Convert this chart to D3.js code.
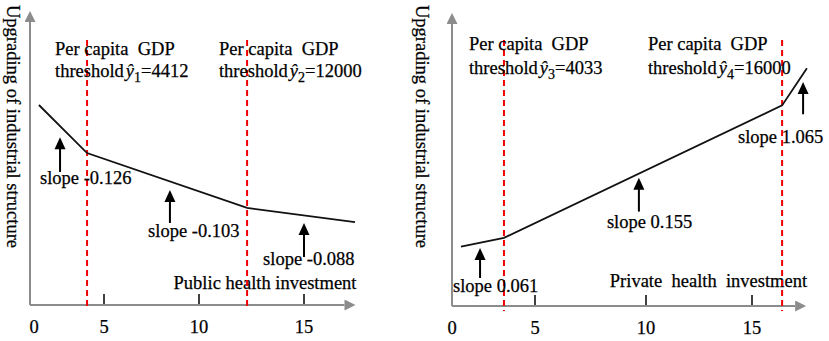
<!DOCTYPE html>
<html><head><meta charset="utf-8">
<script src="https://cdn.jsdelivr.net/npm/d3@7"></script>
<style>
body{margin:0;background:#fff}
svg{display:block}
text{font-family:"Liberation Serif","Times New Roman",serif;font-size:18.5px;fill:#000;white-space:pre;stroke:#000;stroke-width:0.25px}
</style></head><body>
<svg id="c" width="829" height="341"></svg>
<script>
// ---- data ----
const xTicks = [0, 5, 10, 15];
const yAxisTitle = "Upgrading of industrial structure";

const publicX = [0.35, 3.79, 12.29, 17.43];
const publicY = [6.78, 5.15, 3.29, 2.81];
const publicThresholds = [3.79, 12.29];
const publicThresholdSub = ["1", "2"];
const publicThresholdVal = ["4412", "12000"];
const publicSlopes = ["slope -0.126", "slope -0.103", "slope -0.088"];

const privateX = [0.54, 3.13, 16.42, 17.59];
const privateY = [2.01, 2.31, 6.80, 8.06];
const privateThresholds = [3.13, 16.42];
const privateThresholdSub = ["3", "4"];
const privateThresholdVal = ["4033", "16000"];
const privateSlopes = ["slope 0.061", "slope 0.155", "slope 1.065"];

// annotation anchors (data units)
const publicArrowX = [1.86, 8.47, 15.0], publicArrowTip = [5.69, 3.90, 2.78], publicArrowBase = [4.51, 2.78, 1.63];
const publicLabelX = [0.43, 7.32, 13.05], publicLabelY = [4.10, 2.31, 1.36];
const publicGdpX = [1.5, 10.95];
const privateArrowX = [1.69, 9.68, 17.41], privateArrowTip = [1.97, 4.35, 7.59], privateArrowBase = [0.95, 3.20, 6.50];
const privateLabelX = [0.06, 8.24, 14.34], privateLabelY = [0.48, 2.65, 5.54];
const privateGdpX = [1.02, 10.09];

const panels = [
  { xs: publicX, ys: publicY, th: publicThresholds, sub: publicThresholdSub, val: publicThresholdVal,
    slopes: publicSlopes, ax: publicArrowX, at: publicArrowTip, ab: publicArrowBase, lx: publicLabelX, ly: publicLabelY,
    gx: publicGdpX, gy: [8.47, 7.73], xTitle: "Public health investment", xTitleY: 0.55,
    originX: 30, anchors: [34, 104, 199, 304], axisY: 305, topY: 10, xMax: 17.5, titleX: 7 },
  { xs: privateX, ys: privateY, th: privateThresholds, sub: privateThresholdSub, val: privateThresholdVal,
    slopes: privateSlopes, ax: privateArrowX, at: privateArrowTip, ab: privateArrowBase, lx: privateLabelX, ly: privateLabelY,
    gx: privateGdpX, gy: [8.67, 7.86], xTitle: "Private  health  investment", xTitleY: 0.65,
    originX: 452, anchors: [452, 535, 646, 752], axisY: 306, topY: 12, xMax: 17.6, titleX: 416 }
];

const svg = d3.select("#c");
const defs = svg.append("defs");
defs.append("marker").attr("id","ga").attr("viewBox","0 0 10 10").attr("refX",0).attr("refY",5)
  .attr("markerWidth",6.5).attr("markerHeight",5.5).attr("markerUnits","strokeWidth").attr("orient","auto")
  .append("path").attr("d","M0,0L10,5L0,10Z").attr("fill","#8c8c8c");

panels.forEach(p => {
  const g = svg.append("g");
  const x = d3.scaleLinear().domain(xTicks).range(p.anchors);
  const y = d3.scaleLinear().domain([0, 10]).range([p.axisY, p.axisY - 295]);

  // axes
  g.append("line").attr("x1", p.originX).attr("y1", p.axisY).attr("x2", p.originX).attr("y2", p.topY + 12)
    .attr("stroke", "#8c8c8c").attr("stroke-width", 2).attr("marker-end", "url(#ga)");
  g.append("line").attr("x1", p.originX).attr("y1", p.axisY).attr("x2", x(p.xMax) - 12).attr("y2", p.axisY)
    .attr("stroke", "#8c8c8c").attr("stroke-width", 2).attr("marker-end", "url(#ga)");

  // ticks
  g.selectAll(".tk").data(xTicks.slice(1)).join("line")
    .attr("x1", d => x(d)).attr("x2", d => x(d)).attr("y1", p.axisY - 1).attr("y2", p.axisY - 11)
    .attr("stroke", "#111").attr("stroke-width", 1.6);
  g.selectAll(".tl").data(xTicks).join("text")
    .attr("x", d => x(d)).attr("y", p.axisY + 28).attr("text-anchor", "middle").text(d => d);

  // y title
  g.append("text").attr("transform", `translate(${p.titleX},5) rotate(90)`).text(yAxisTitle);
  // x title
  g.append("text").attr("x", x(p.xMax)).attr("y", y(p.xTitleY)).attr("text-anchor", "end").text(p.xTitle);

  // thresholds
  g.selectAll(".th").data(p.th).join("line")
    .attr("x1", d => x(d)).attr("x2", d => x(d)).attr("y1", 40).attr("y2", p.axisY + 5)
    .attr("stroke", "#f00000").attr("stroke-width", 2).attr("stroke-dasharray", "6,4");

  // GDP labels
  p.gx.forEach((gx, i) => {
    g.append("text").attr("x", x(gx)).attr("y", y(p.gy[0])).text("Per capita  GDP");
    const t = g.append("text").attr("x", x(gx)).attr("y", y(p.gy[1]));
    t.append("tspan").text("threshold");
    t.append("tspan").attr("font-style", "italic").attr("dx", 2).text("\u0177");
    t.append("tspan").attr("dy", 5).attr("font-size", "14px").text(p.sub[i]);
    t.append("tspan").attr("dy", -5).text("=" + p.val[i]);
  });

  // line
  const pts = p.xs.map((v, i) => [v, p.ys[i]]);
  g.append("path").datum(pts).attr("fill", "none").attr("stroke", "#111").attr("stroke-width", 1.8)
    .attr("d", d3.line().x(d => x(d[0])).y(d => y(d[1])));

  // slope arrows
  p.ax.forEach((ax, i) => {
    const px = x(ax), tip = y(p.at[i]), base = y(p.ab[i]);
    g.append("line").attr("x1", px).attr("x2", px).attr("y1", tip + 10).attr("y2", base)
      .attr("stroke", "#000").attr("stroke-width", 2);
    g.append("path").attr("d", `M${px},${tip}L${px - 5.5},${tip + 12}L${px + 5.5},${tip + 12}Z`).attr("fill", "#000");
    g.append("text").attr("x", x(p.lx[i])).attr("y", y(p.ly[i])).text(p.slopes[i]);
  });
});
</script>
</body></html>
